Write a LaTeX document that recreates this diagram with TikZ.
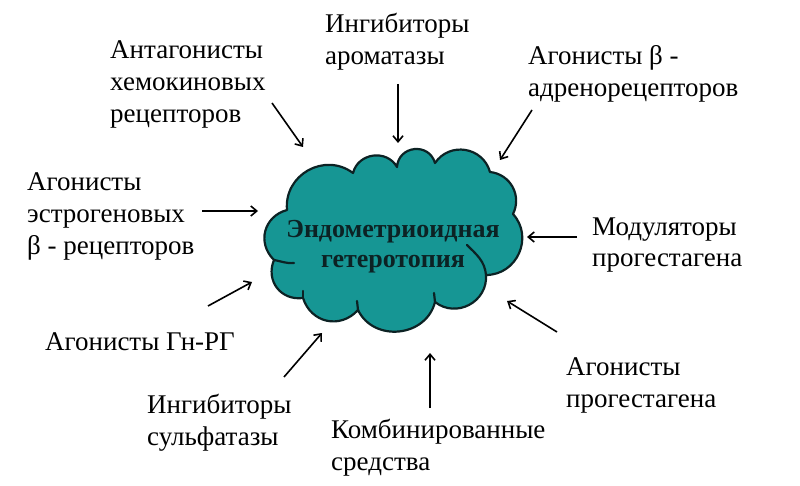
\documentclass[tikz,border=0pt]{standalone}
\usepackage{fontspec}
\setmainfont{Liberation Serif}
\usetikzlibrary{arrows.meta}
\definecolor{cloudteal}{RGB}{22,150,148}
\definecolor{cloudline}{RGB}{12,34,36}

\begin{document}
\begin{tikzpicture}[
    x=1pt, y=1pt,
    lbl/.style={anchor=base west, align=left, inner sep=0pt, font=\fontsize{27}{32}\selectfont},
    arr/.style={draw, line width=1.6pt, -{Straight Barb[length=6pt,width=10pt]}},
    puff/.style={bend left=#1, looseness=1.2},
    edge/.style={draw=cloudline, line width=2.2pt, line cap=round}
]
\useasboundingbox (0,0) rectangle (800,485);

% cloud
\coordinate (A) at (287,275);
\coordinate (B) at (353,312);
\coordinate (B2) at (397,318);
\coordinate (C) at (435,322);
\coordinate (D) at (490,313);
\coordinate (E) at (513,271);
\coordinate (F) at (486,210);
\coordinate (G) at (435,183);
\coordinate (H) at (358,175);
\coordinate (I) at (303,187);
\coordinate (J) at (274,225);
\filldraw[fill=cloudteal, edge, line join=round]
  (A) to[puff=66] (B) to[puff=68] (B2) to[puff=80, looseness=1.45] (C)
  to[puff=65] (D) to[puff=55, looseness=1.1] (E) to[puff=66] (F)
  to[puff=66] (G) to[puff=70] (H) to[puff=60] (I) to[puff=60] (J)
  to[puff=60] cycle;
\draw[edge] (J) to[out=-10,in=185] (294,222);
\draw[edge] (F) to[out=95,in=-45] (467,240);
\draw[edge] (G) to[out=95,in=-85] (434,192);
\draw[edge] (H) to[out=90,in=-90] (357,184);
\draw[edge] (I) to[out=90,in=-90] (303,194);
\node[font=\fontsize{26}{30}\selectfont\bfseries, text=cloudline, align=center, anchor=base, inner sep=0pt]
  (cloud) at (393,217) {Эндометриоидная\\гетеротопия};

% labels
\node[lbl] (hemo) at (110,362) {Антагонисты\\хемокиновых\\рецепторов};
\node[lbl] (arom) at (325,420) {Ингибиторы\\ароматазы};
\node[lbl] (adren) at (528,388) {Агонисты β -\\адренорецепторов};
\node[lbl] (estr) at (27,230) {Агонисты\\эстрогеновых\\β - рецепторов};
\node[lbl] (modul) at (592,218) {Модуляторы\\прогестагена};
\node[lbl] (gnrg) at (45,135) {Агонисты Гн-РГ};
\node[lbl] (sulf) at (147,40) {Ингибиторы\\сульфатазы};
\node[lbl] (komb) at (331,15) {Комбинированные\\средства};
\node[lbl] (prog) at (566,78) {Агонисты\\прогестагена};

% arrows
\coordinate (t1) at (272,382); \coordinate (h1) at (303,338);
\coordinate (t2) at (398,401); \coordinate (h2) at (398,342);
\coordinate (t3) at (532,375); \coordinate (h3) at (500,325);
\coordinate (t4) at (202,274); \coordinate (h4) at (258,274);
\coordinate (t5) at (577,248); \coordinate (h5) at (527,248);
\coordinate (t6) at (208,179); \coordinate (h6) at (252,203);
\coordinate (t7) at (284,108); \coordinate (h7) at (322,152);
\coordinate (t8) at (430,77);  \coordinate (h8) at (430,132);
\coordinate (t9) at (557,153); \coordinate (h9) at (507,184);
\foreach \i in {1,...,9}
  \draw[arr] (t\i) -- (h\i);
\end{tikzpicture}
\end{document}
